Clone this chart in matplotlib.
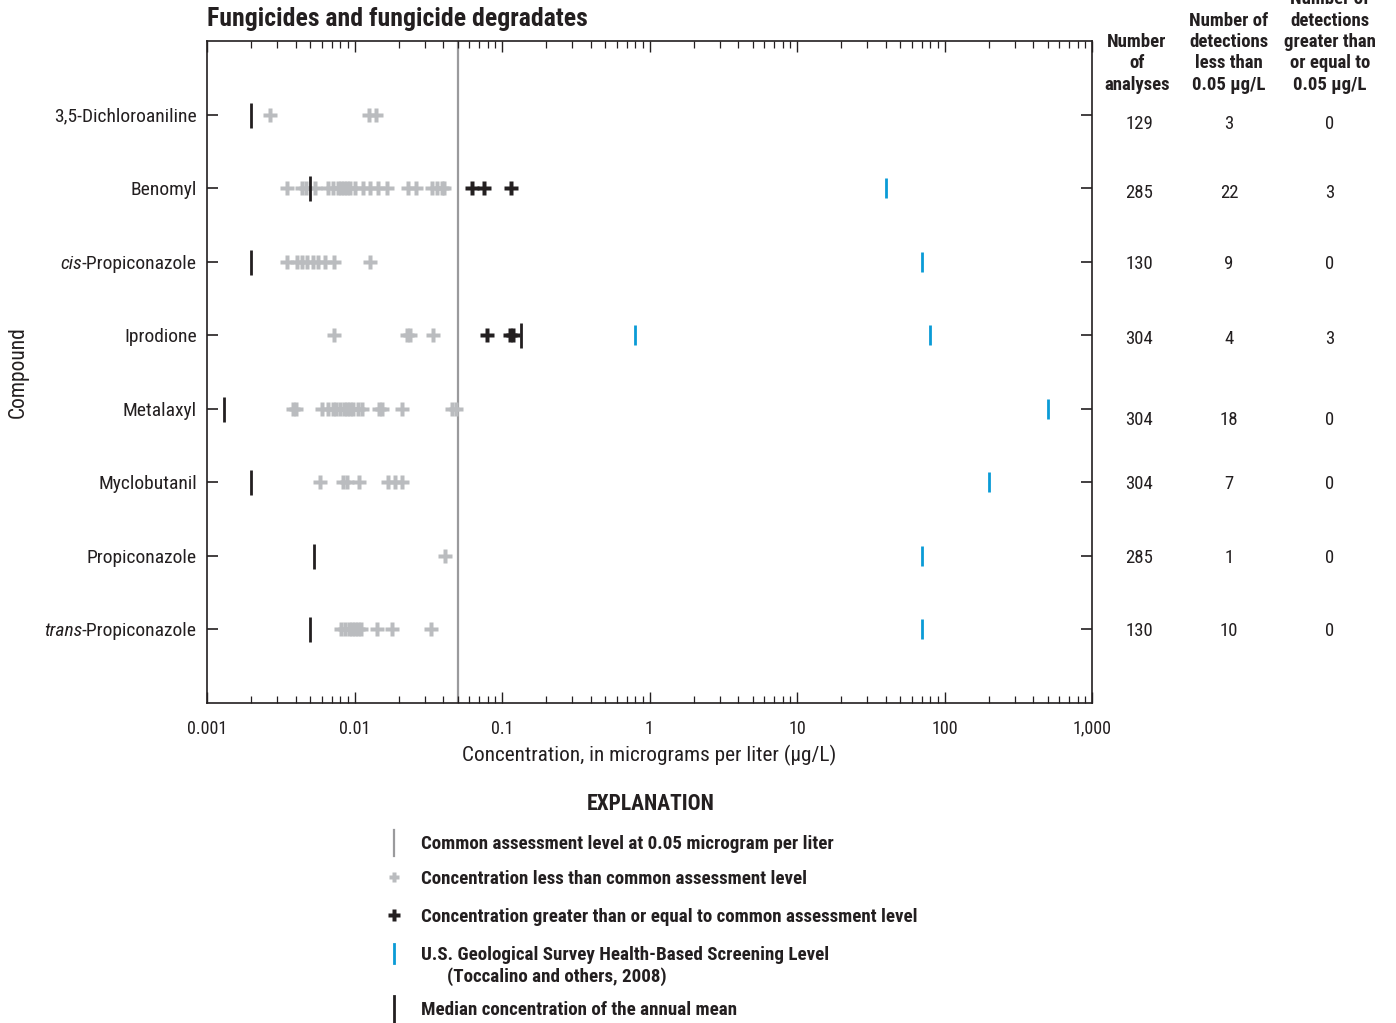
import matplotlib
matplotlib.use("Agg")
import matplotlib.pyplot as plt
import matplotlib.transforms as mtransforms
from matplotlib.ticker import FixedLocator, FixedFormatter, LogLocator, NullFormatter

FONT = ['Roboto Condensed', 'Open Sans Condensed', 'Liberation Sans Narrow', 'Roboto', 'DejaVu Sans']
plt.rcParams['font.family'] = FONT

# ---------------- data ----------------
compounds = ['3,5-Dichloroaniline', 'Benomyl', 'cis-Propiconazole', 'Iprodione',
             'Metalaxyl', 'Myclobutanil', 'Propiconazole', 'trans-Propiconazole']
italic_prefix = ['', '', 'cis', '', '', '', '', 'trans']

less_than = [
    [0.00267, 0.0125, 0.0140],
    [0.0035, 0.0044, 0.0047, 0.0054, 0.0066, 0.0072, 0.0077, 0.0081, 0.0085, 0.0089, 0.0093,
     0.0101, 0.0114, 0.0127, 0.0144, 0.0166, 0.0231, 0.0261, 0.0335, 0.0363, 0.0392, 0.0405],
    [0.0035, 0.0041, 0.0044, 0.0048, 0.0052, 0.0057, 0.0063, 0.0073, 0.0127],
    [0.0073, 0.0227, 0.0238, 0.0341],
    [0.0038, 0.0040, 0.0060, 0.0066, 0.0072, 0.0075, 0.0080, 0.0085, 0.0089, 0.0093, 0.0098,
     0.0106, 0.0112, 0.0147, 0.0154, 0.0210, 0.0458, 0.0488],
    [0.0058, 0.0084, 0.0089, 0.0107, 0.0169, 0.0188, 0.0210],
    [0.0411],
    [0.0081, 0.0086, 0.0092, 0.0096, 0.0101, 0.0106, 0.0111, 0.0142, 0.0180, 0.0330],
]
greater_equal = [
    [],
    [0.063, 0.075, 0.115],
    [],
    [0.079, 0.113, 0.119],
    [], [], [], [],
]
medians = [0.002, 0.005, 0.002, 0.135, 0.0013, 0.002, 0.0053, 0.005]
hbsl = [[], [40], [70], [0.8, 80], [500], [200], [70], [70]]

n_analyses = [129, 285, 130, 304, 304, 304, 285, 130]
n_less = [3, 22, 9, 4, 18, 7, 1, 10]
n_greater = [0, 3, 0, 3, 0, 0, 0, 0]

cal_level = 0.05
xticks = [0.001, 0.01, 0.1, 1, 10, 100, 1000]
xtick_labels = ['0.001', '0.01', '0.1', '1', '10', '100', '1,000']

# ---------------- style ----------------
W, H = 1396, 1023
GRAY = '#babcbf'
BLACK = '#231f20'
BLUE = '#0a9bd6'
CAL = '#9a9a9c'
FS = 14
FS_TAB = 13.5
FS_LEG = 13.7

fig = plt.figure(figsize=(W / 100, H / 100), dpi=100)
ax = fig.add_axes([207 / W, 1 - 703 / H, (1092 - 207) / W, (703 - 41) / H])

ax.set_xscale('log')
ax.set_xlim(0.001, 1000)
ax.set_ylim(len(compounds) + 1, 0)
ys = list(range(1, len(compounds) + 1))

ax.axvline(cal_level, color=CAL, lw=1.6, zorder=1)

for i, y in enumerate(ys):
    if less_than[i]:
        ax.plot(less_than[i], [y] * len(less_than[i]), ls='none', marker='P', ms=9.5,
                mfc=GRAY, mec='none', zorder=3)
    if greater_equal[i]:
        ax.plot(greater_equal[i], [y] * len(greater_equal[i]), ls='none', marker='P', ms=9.5,
                mfc=BLACK, mec='none', zorder=4)
    ax.plot([medians[i]], [y], ls='none', marker='|', ms=18, mew=2.0, color=BLACK, zorder=5)
    if hbsl[i]:
        ax.plot(hbsl[i], [y] * len(hbsl[i]), ls='none', marker='|', ms=14.5, mew=2.0,
                color=BLUE, zorder=5)

# axes styling
for s in ax.spines.values():
    s.set_color(BLACK)
    s.set_linewidth(1.2)
ax.xaxis.set_major_locator(FixedLocator(xticks))
ax.xaxis.set_major_formatter(FixedFormatter(xtick_labels))
ax.xaxis.set_minor_locator(LogLocator(base=10, subs=range(2, 10), numticks=20))
ax.xaxis.set_minor_formatter(NullFormatter())
ax.tick_params(axis='x', which='major', direction='in', length=8, width=1.0, top=True,
               bottom=True, labelsize=13, pad=12, colors=BLACK)
ax.tick_params(axis='x', which='minor', direction='in', length=5, width=0.9, top=True,
               bottom=True, colors=BLACK)
ax.set_yticks(ys)
ax.set_yticklabels([''] * len(ys))
ax.tick_params(axis='y', which='major', direction='in', length=8, width=1.2, left=True,
               right=True, colors=BLACK)
ax.set_xlabel('Concentration, in micrograms per liter (µg/L)', fontsize=15.3, labelpad=5,
              color=BLACK)

# y tick labels with italic prefixes
renderer = fig.canvas.get_renderer()
ytrans = mtransforms.blended_transform_factory(fig.transFigure, ax.transData)
lab_x = 197 / W
for i, y in enumerate(ys):
    pre = italic_prefix[i]
    rest = compounds[i][len(pre):]
    t = fig.text(lab_x, y, rest, transform=ytrans, ha='right', va='center_baseline',
                 fontsize=FS, color=BLACK)
    if pre:
        wpx = t.get_window_extent(renderer=renderer).width
        fig.text(lab_x - wpx / W, y, pre, transform=ytrans, ha='right',
                 va='center_baseline', fontsize=FS, style='italic', color=BLACK)

fig.text(18 / W, 1 - 372 / H, 'Compound', rotation=90, ha='center', va='center',
         fontsize=15.5, color=BLACK)
fig.text(207 / W, 1 - 19 / H, 'Fungicides and fungicide degradates', ha='left',
         va='center', fontsize=18.5, fontweight='bold', color=BLACK)

# ---------------- table ----------------
col_x = [1137, 1229, 1330]
headers = [
    ['Number', 'of', 'analyses'],
    ['Number of', 'detections', 'less than', '0.05 µg/L'],
    ['Number of', 'detections', 'greater than', 'or equal to', '0.05 µg/L'],
]
header_y_bottom = 83
line_h = 21.5
for cx, lines in zip(col_x, headers):
    n = len(lines)
    for k, t in enumerate(lines):
        yy = header_y_bottom - (n - 1 - k) * line_h
        fig.text(cx / W, 1 - yy / H, t, ha='center', va='center_baseline', fontsize=FS_TAB,
                 fontweight='bold', color=BLACK)

table_dy = [0.10, 0.04, 0.01, 0.03, 0.12, -0.01, 0.0, 0.0]
for i, y in enumerate(ys):
    for cx, val in zip(col_x, [n_analyses[i], n_less[i], n_greater[i]]):
        fig.text(cx / W + (0.0015 if cx == 1137 else 0.0), y + table_dy[i], str(val),
                 transform=ytrans, ha='center', va='center_baseline', fontsize=FS_TAB,
                 color=BLACK)

# ---------------- explanation ----------------
fig.text(651 / W, 1 - 801 / H, 'EXPLANATION', ha='center', va='center_baseline',
         fontsize=15.5, fontweight='bold', color=BLACK)
lax = fig.add_axes([0, 0, 1, 1], facecolor='none')
lax.set_xlim(0, W)
lax.set_ylim(H, 0)
lax.axis('off')
sx = 394
tx = 421
lax.plot([sx, sx], [830, 856], color=CAL, lw=1.6)
lax.plot([sx], [877], ls='none', marker='P', ms=7.5, mfc=GRAY, mec='none')
lax.plot([sx], [915], ls='none', marker='P', ms=8.5, mfc=BLACK, mec='none')
lax.plot([sx, sx], [944, 963], color=BLUE, lw=2.0)
lax.plot([sx, sx], [996, 1022], color=BLACK, lw=2.0)
entries = [
    (842, 'Common assessment level at 0.05 microgram per liter', tx),
    (877, 'Concentration less than common assessment level', tx),
    (915, 'Concentration greater than or equal to common assessment level', tx),
    (953, 'U.S. Geological Survey Health-Based Screening Level', tx),
    (975, '(Toccalino and others, 2008)', 447),
    (1008, 'Median concentration of the annual mean', tx),
]
for yy, t, xx in entries:
    lax.text(xx, yy, t, ha='left', va='center_baseline', fontsize=FS_LEG,
             fontweight='bold', color=BLACK)

fig.savefig('out.png', dpi=100)
